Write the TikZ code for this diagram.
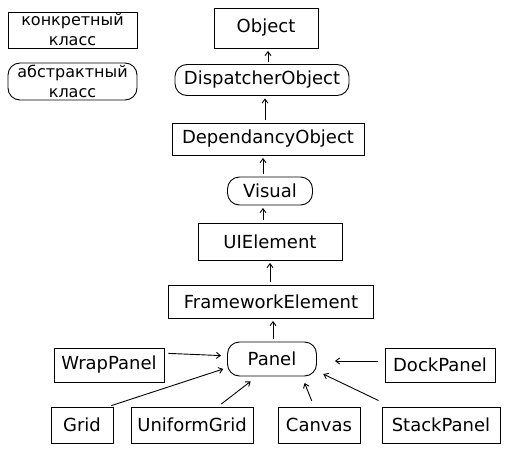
\documentclass[tikz,border=0pt]{standalone}
\usepackage{fontspec}
\setmainfont{DejaVu Sans}
\usepackage{tikz}
\usetikzlibrary{positioning,arrows.meta}

\begin{document}
\begin{tikzpicture}[x=1pt,y=1pt,>={Straight Barb[length=4pt,width=6pt]},line width=0.9pt,font=\fontsize{18}{20}\selectfont]
\tikzstyle{block} = [draw, shape=rectangle, minimum height=34pt, inner sep=1pt]
\tikzstyle{abstr} = [draw, shape=rectangle, rounded corners=12pt, minimum height=30pt, inner sep=1pt]
\tikzstyle{legend} = [align=center, minimum width=129pt, font=\fontsize{16}{20}\selectfont]
\tikzstyle{inh} = [->, shorten <=2.5pt, shorten >=2.5pt]

\useasboundingbox (0,0) rectangle (528,-450);

% Legend
\node [block, legend, minimum height=36pt] at (72.5,-30) (concrete) {конкретный\\класс};
\node [abstr, legend, minimum height=37pt] at (72.5,-81.5) (abstract) {абстрактный\\класс};

% Chain of base classes
\node [block, minimum width=104pt, minimum height=40pt] at (266,-28) (Object) {Object};
\node [abstr, below of=Object, node distance=52pt, xshift=-4pt, minimum width=174pt, minimum height=31pt] (DispObj) {DispatcherObject};
\node [block, below of=DispObj, node distance=59pt, xshift=6pt, minimum width=192pt, minimum height=32pt] (DepObj) {DependancyObject};
\node [abstr, below of=DepObj, node distance=52pt, xshift=2pt, minimum width=85pt, minimum height=28pt] (Visual) {Visual};
\node [block, below of=Visual, node distance=50.5pt, minimum width=144pt, minimum height=37pt] (UIElem) {UIElement};
\node [block, below of=UIElem, node distance=60pt, xshift=1pt, minimum width=205pt, minimum height=33pt] (FwElem) {FrameworkElement};
\node [abstr, below of=FwElem, node distance=57.5pt, xshift=1pt, minimum width=89pt, minimum height=34pt] (Panel) {Panel};
\draw[inh] ([xshift=6pt]DispObj.north) -- ([xshift=2pt]Object.south);
\draw[inh] ([xshift=-3pt]DepObj.north) -- ([xshift=3pt]DispObj.south);
\draw[inh] ([xshift=-7pt]Visual.north) -- ([xshift=-5pt]DepObj.south);
\draw[inh] ([xshift=-7pt]UIElem.north) -- ([xshift=-7pt]Visual.south);
\draw[inh] ([xshift=-1pt]FwElem.north) -- (UIElem.south);
\draw[inh] ([xshift=1pt]Panel.north) -- ([xshift=2pt]FwElem.south);

% Panels
\node [block, left of=Panel, node distance=163pt, yshift=-6pt, minimum width=110pt] (WrapPanel) {WrapPanel};
\node [block, right of=Panel, node distance=168pt, yshift=-6pt, minimum width=110pt] (DockPanel) {DockPanel};
\node [block, minimum width=62pt, minimum height=36pt] at (82,-425) (Grid) {Grid};
\node [block, minimum width=122pt, minimum height=36pt] at (192,-425) (UniGrid) {UniformGrid};
\node [block, minimum width=82pt, minimum height=36pt] at (319,-425) (Canvas) {Canvas};
\node [block, minimum width=118pt, minimum height=36pt] at (441,-425) (StackPanel) {StackPanel};
\draw[->, shorten <=4pt, shorten >=6pt] (WrapPanel.12) -- (Panel.176);
\draw[->, shorten <=3pt, shorten >=4pt] ([xshift=-5pt]Grid.north east) -- (Panel.191);
\draw[->, shorten <=4pt, shorten >=8pt] ([xshift=26pt]UniGrid.north) -- ([xshift=-15pt]Panel.south);
\draw[->, shorten <=6pt, shorten >=7pt] ([xshift=-5pt]Canvas.north) -- ([xshift=30pt]Panel.south);
\draw[->, shorten <=0pt, shorten >=7pt] ([xshift=-3pt,yshift=6pt]StackPanel.north west) -- (Panel.-15);
\draw[->, shorten <=7pt, shorten >=18pt] ([yshift=4pt]DockPanel.west) -- ([yshift=-2pt]Panel.east);

\end{tikzpicture}
\end{document}
